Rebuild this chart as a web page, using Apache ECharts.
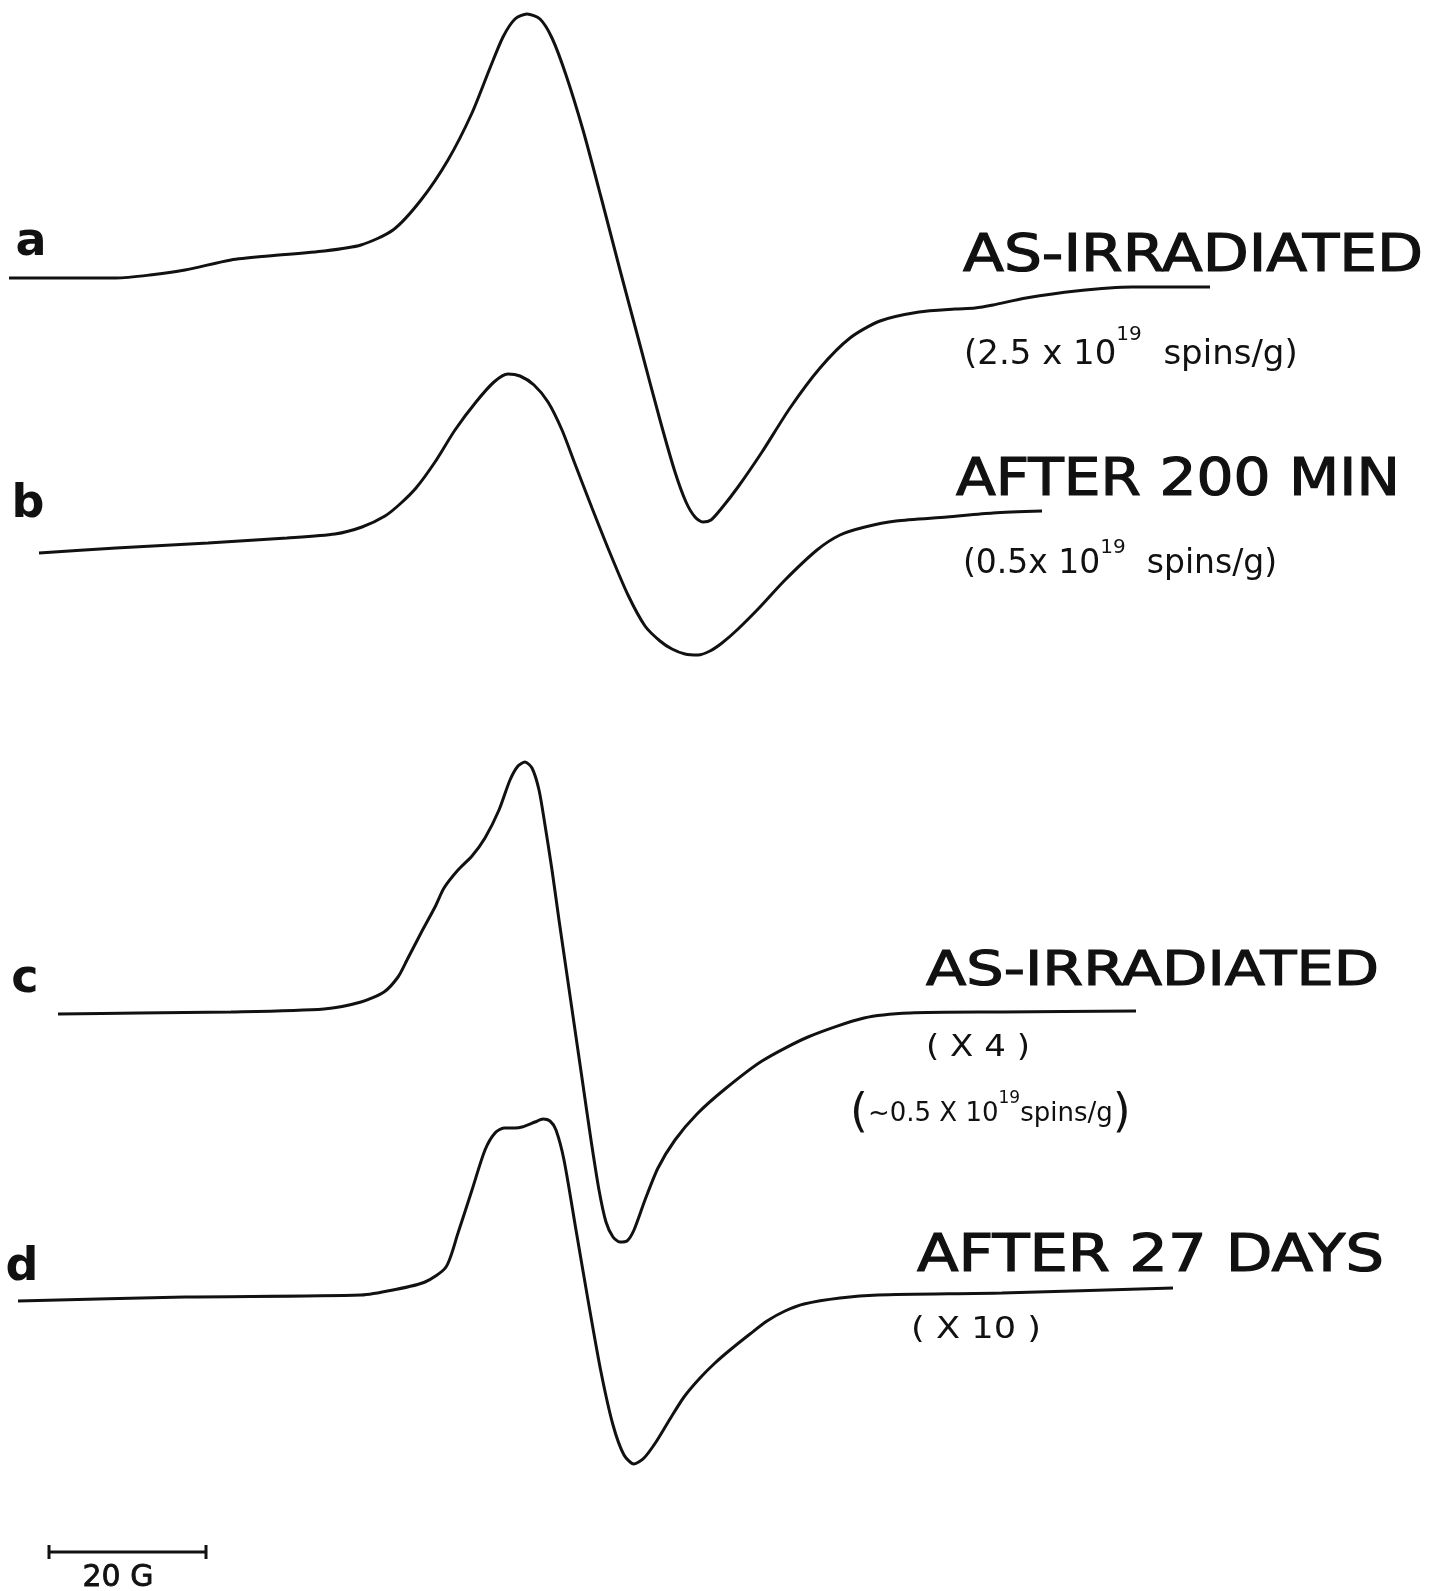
<!DOCTYPE html>
<html lang="en" style="height: 100%">
<head>
  <meta charset="utf-8">
  <title>ESR spectra</title>
</head>
<body style="height: 100%; margin: 0; background: #fff">
  <div id="container" style="width: 1450px; height: 1591px"></div>
  <script src="https://cdn.jsdelivr.net/npm/echarts@6.0.0/dist/echarts.min.js"></script>
  <script>
    // traces, [x, y] in page units (y grows downward)
    var traceA = [[9, 278], [116, 278], [150, 275], [185, 270], [231, 260], [268, 256], [324, 251], [361, 245],
      [393, 230], [421, 200], [448, 160], [472, 113], [490, 68], [503, 37], [515, 19], [527, 14], [540, 19],
      [552, 38], [566, 75], [583, 130], [601, 197], [620, 270], [640, 345], [660, 420], [675, 472], [686, 502],
      [695, 517], [703, 522], [711, 520], [721, 509], [738, 487], [762, 452], [790, 408], [820, 368],
      [850, 338], [880, 321], [919, 312], [955, 309], [975, 308], [993, 305], [1026, 298], [1076, 291],
      [1132, 287], [1210, 287]];
    var traceB = [[39, 553], [116, 548], [208, 543], [287, 538], [335, 534], [362, 527], [385, 516], [400, 504],
      [416, 488], [435, 462], [455, 430], [476, 402], [494, 382], [508, 374], [520, 376], [534, 385],
      [548, 402], [562, 430], [575, 464], [592, 508], [610, 553], [628, 595], [645, 626], [660, 641],
      [672, 649], [685, 654], [698, 655], [710, 651], [722, 643], [737, 630], [760, 607], [785, 580],
      [817, 550], [840, 535], [865, 527], [896, 521], [947, 517], [993, 513], [1042, 511]];
    var traceC = [[58, 1014], [139, 1013], [231, 1012], [324, 1009], [361, 1002], [384, 992], [398, 977],
      [407, 960], [421, 933], [435, 907], [444, 888], [458, 870], [472, 856], [485, 838], [499, 810],
      [510, 780], [518, 766], [525, 762], [532, 768], [539, 790], [545, 825], [552, 870], [559, 920],
      [567, 975], [575, 1030], [583, 1085], [591, 1140], [599, 1190], [606, 1222], [613, 1237], [620, 1242],
      [627, 1241], [634, 1230], [645, 1200], [658, 1168], [675, 1140], [697, 1114], [725, 1089],
      [762, 1061], [808, 1037], [864, 1018], [910, 1013], [1002, 1012], [1136, 1011]];
    var traceD = [[18, 1301], [185, 1297], [361, 1295], [393, 1290], [425, 1282], [446, 1267], [458, 1233],
      [472, 1190], [485, 1150], [495, 1133], [504, 1128], [515, 1128], [522, 1127], [535, 1122], [543, 1119],
      [550, 1121], [556, 1130], [564, 1160], [576, 1230], [588, 1300], [601, 1372], [613, 1425], [624, 1455],
      [634, 1464], [644, 1458], [656, 1442], [670, 1419], [684, 1397], [700, 1378], [715, 1363], [730, 1350],
      [750, 1334], [767, 1321], [785, 1311], [804, 1304], [840, 1298], [878, 1295], [1002, 1293], [1173, 1288]];
    var scaleBar = [[49, 1552], [206, 1552]];

    var traceLetters = ['a', 'b', 'c', 'd'];
    var titles = ['AS-IRRADIATED', 'AFTER 200 MIN', 'AS-IRRADIATED', 'AFTER 27 DAYS'];
    var factors = ['( X 4 )', '( X 10 )'];
    var scaleLabel = '20 G';

    var ink = '#111';
    var fam = '"DejaVu Sans", "Liberation Sans", sans-serif';

    // layout: [centerX, middleY]
    var letterPos = [[31, 243], [28, 505], [25, 980], [22, 1268]];
    // layout: [left, capCenterY] and [width, fontSize]
    var titlePos = [[963, 258], [956, 482], [926, 973], [917, 1258]];
    var titleSize = [[460, 51], [444, 51], [453, 48], [467, 51]];
    var factorPos = [[926, 1048, 104, 30], [911, 1330, 130, 31]];

    var ctx = document.createElement('canvas').getContext('2d');
    function fitScale(str, size, w) {
      ctx.font = size + 'px ' + fam;
      return w / ctx.measureText(str).width;
    }

    var dom = document.getElementById('container');
    var myChart = echarts.init(dom, null, { renderer: 'canvas' });

    function trace(name, data) {
      return {
        name: name,
        type: 'line',
        data: data,
        smooth: 0.25,
        symbol: 'none',
        lineStyle: { color: ink, width: 3 },
        silent: true
      };
    }

    var graphics = [];
    traceLetters.forEach(function (t, i) {
      graphics.push({
        type: 'text', x: letterPos[i][0], y: letterPos[i][1],
        style: { text: t, fontSize: 46, fontWeight: 'bold', fontFamily: fam, fill: ink, align: 'center', verticalAlign: 'middle' }
      });
    });
    titles.forEach(function (t, i) {
      var p = titlePos[i], s = titleSize[i];
      graphics.push({
        type: 'text', x: p[0], y: p[1], scaleX: fitScale(t, s[1], s[0]),
        style: { text: t, fontSize: s[1], fontFamily: fam, fill: ink, stroke: ink, lineWidth: 1.2, align: 'left', verticalAlign: 'middle' }
      });
    });
    factors.forEach(function (t, i) {
      var p = factorPos[i];
      graphics.push({
        type: 'text', x: p[0], y: p[1], scaleX: fitScale(t, p[3], p[2]),
        style: { text: t, fontSize: p[3], fontFamily: fam, fill: ink, align: 'left', verticalAlign: 'middle' }
      });
    });

    // sub-lines with superscripts; s token lifted by bottom padding
    function spins(x, y, main, sup, rest, mSize, sSize, rise) {
      return {
        type: 'text', x: x, y: y,
        style: {
          text: '{m|' + main + '}{s|' + sup + '}{m|' + rest + '}',
          align: 'left', verticalAlign: 'middle', fill: ink,
          rich: {
            m: { fontSize: mSize, fontFamily: fam, fill: ink, lineHeight: mSize * 1.2, verticalAlign: 'middle' },
            s: { fontSize: sSize, fontFamily: fam, fill: ink, lineHeight: sSize, verticalAlign: 'middle', padding: [0, 0, rise * 2, 0] }
          }
        }
      };
    }
    graphics.push(spins(964, 355, '(2.5 x 10', '19', '  spins/g)', 34, 20, 20));
    graphics.push(spins(963, 564, '(0.5x 10', '19', '  spins/g)', 33, 20, 16));
    graphics.push({
      type: 'text', x: 850, y: 1114,
      style: {
        text: '{p|(}{m|~0.5 X 10}{s|19}{m|spins/g}{p|)}',
        align: 'left', verticalAlign: 'middle', fill: ink,
        rich: {
          p: { fontSize: 46, fontFamily: fam, fill: ink, lineHeight: 52, verticalAlign: 'middle' },
          m: { fontSize: 26, fontFamily: fam, fill: ink, lineHeight: 30, verticalAlign: 'middle' },
          s: { fontSize: 17, fontFamily: fam, fill: ink, lineHeight: 17, verticalAlign: 'middle', padding: [0, 0, 30, 0] }
        }
      }
    });
    graphics.push({
      type: 'text', x: 118, y: 1578,
      style: { text: scaleLabel, fontSize: 30, fontFamily: fam, fill: ink, stroke: ink, lineWidth: 0.8, align: 'center', verticalAlign: 'middle' }
    });

    var option = {
      animation: false,
      backgroundColor: '#fff',
      grid: { left: 0, right: 0, top: 0, bottom: 0 },
      xAxis: { type: 'value', min: 0, max: 1450, show: false },
      yAxis: { type: 'value', min: 0, max: 1591, inverse: true, show: false },
      series: [
        trace('a', traceA),
        trace('b', traceB),
        trace('c', traceC),
        trace('d', traceD),
        {
          name: '20 G',
          type: 'line',
          data: scaleBar,
          symbol: 'rect',
          symbolSize: [3, 14],
          showAllSymbol: true,
          itemStyle: { color: ink },
          lineStyle: { color: ink, width: 3 },
          silent: true
        }
      ],
      graphic: graphics
    };
    myChart.setOption(option);
    window.addEventListener('resize', myChart.resize);
  </script>
</body>
</html>
